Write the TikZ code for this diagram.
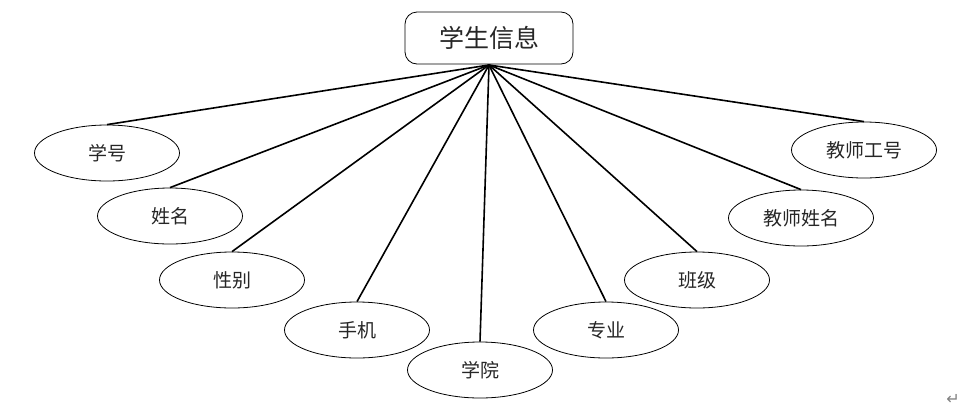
\documentclass[tikz,border=0pt]{standalone}
\usepackage{fontspec}
\newfontfamily\cjk{Noto Sans CJK SC}
\newfontfamily\dejavu{DejaVu Sans}
\usetikzlibrary{shapes.geometric}
\begin{document}
\begin{tikzpicture}[x=1pt,y=-1pt,
  attr/.style={draw,line width=0.8pt,ellipse,minimum width=145pt,minimum height=56pt,inner sep=0pt,font=\cjk\fontsize{19}{22}\selectfont,text=black!85},
  entity/.style={draw,line width=0.8pt,rounded corners=12pt,minimum width=168pt,minimum height=52pt,inner sep=0pt,font=\cjk\fontsize{25}{30}\selectfont,text=black!85},
  link/.style={line width=1.6pt}]
\useasboundingbox (0,0) rectangle (965,410);
\node[entity] (top) at (489,38) {学生信息};
\coordinate (hub) at (489,65);
\node[attr] (a1) at (107,153) {学号};
\node[attr] (a2) at (170,216) {姓名};
\node[attr] (a3) at (232,280) {性别};
\node[attr] (a4) at (357,330) {手机};
\node[attr] (a5) at (480,370) {学院};
\node[attr] (a6) at (606,330) {专业};
\node[attr] (a7) at (697,280) {班级};
\node[attr] (a8) at (801,218) {教师姓名};
\node[attr] (a9) at (864,150) {教师工号};
\foreach \n in {a1,a2,a3,a4,a5,a6,a7,a8,a9}{\draw[link] (hub) -- (\n.north);}
\node[font=\dejavu\fontsize{16}{18}\selectfont,text=gray] (ret) at (953,399) {↵};
\end{tikzpicture}
\end{document}
